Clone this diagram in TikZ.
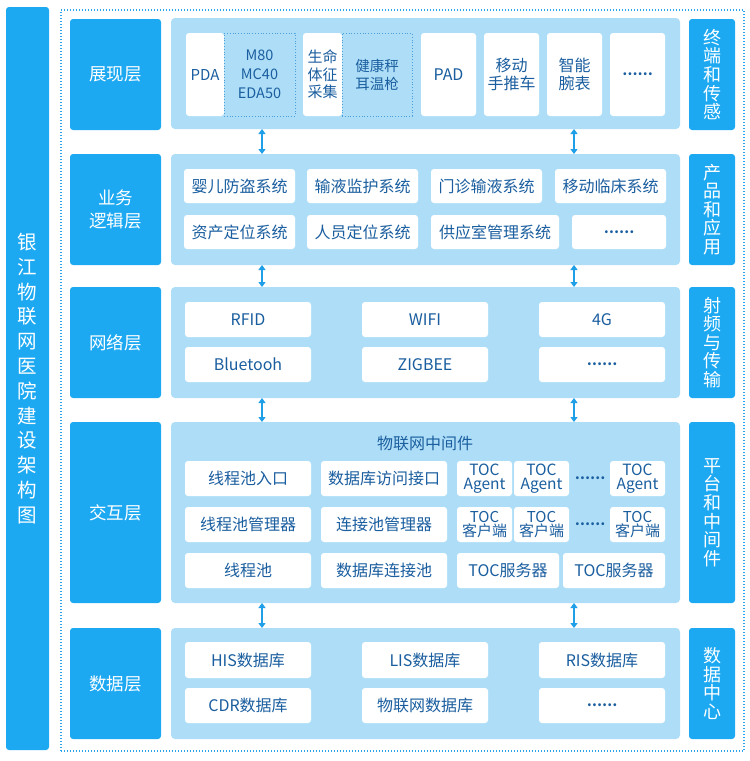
\documentclass[tikz,border=0pt]{standalone}
\usepackage{fontspec}
\setmainfont{Noto Sans CJK SC}
\usetikzlibrary{arrows.meta}
\definecolor{dk}{HTML}{1DA9F2}
\definecolor{lt}{HTML}{AEDEF7}
\definecolor{tx}{HTML}{1A5E9F}
\definecolor{ac}{HTML}{1E9FE8}
\definecolor{fc}{HTML}{2BA4EC}
\definecolor{dc}{HTML}{4A9FDB}
\newcommand\myfs[2]{\fontsize{#1}{#2}\selectfont}
\newcommand\mkbox[7]{\node[#1,minimum width={#5-#3},minimum height={#6-#4}] (#2) at ({(#3+#5)/2},{(#4+#6)/2}) {#7};}
\begin{document}
\begin{tikzpicture}[x=1pt,y=-1pt,
  frame/.style={draw=fc, dash pattern=on 1pt off 2pt, line width=1.1pt, inner sep=0pt, outer sep=0pt},
  dkbox/.style={fill=dk, rounded corners=3pt, text=white, inner sep=0pt, outer sep=0pt, align=center},
  laylbl/.style={dkbox, font=\myfs{17.5}{23}},
  sidelbl/.style={dkbox, font=\myfs{18}{18.6}},
  panel/.style={fill=lt, rounded corners=4pt, inner sep=0pt, outer sep=0pt},
  wbox/.style={fill=white, rounded corners=3pt, text=tx, inner sep=0pt, outer sep=0pt, align=center, font=\myfs{16}{18}},
  dotbox/.style={draw=dc, dotted, line width=0.8pt, text=tx, inner sep=0pt, outer sep=0pt, align=center},
  dots/.style={font=\bfseries\myfs{13.5}{14}},
  arr/.style={{Triangle[length=5pt,width=7pt]}-{Triangle[length=5pt,width=7pt]}, draw=ac, line width=1.3pt}
]
\useasboundingbox[fill=white] (0,0) rectangle (750,761);

% outer dotted frame and left title bar
\mkbox{frame}{frame}{61}{10}{744}{751}{}
\mkbox{dkbox, font=\myfs{19.5}{24.8}}{title}{6}{7}{49}{750}{银\\江\\物\\联\\网\\医\\院\\建\\设\\架\\构\\图}

% layer labels (left)
\mkbox{laylbl}{L1}{70}{19}{161}{130}{展现层}
\mkbox{laylbl}{L2}{70}{154}{161}{265}{业务\\逻辑层}
\mkbox{laylbl}{L3}{70}{287}{161}{398}{网络层}
\mkbox{laylbl}{L4}{70}{422}{161}{603}{交互层}
\mkbox{laylbl}{L5}{70}{628}{161}{739}{数据层}

% side labels (right)
\mkbox{sidelbl}{R1}{689}{19}{735}{130}{终\\端\\和\\传\\感}
\mkbox{sidelbl}{R2}{689}{154}{735}{265}{产\\品\\和\\应\\用}
\mkbox{sidelbl}{R3}{689}{287}{735}{398}{射\\频\\与\\传\\输}
\mkbox{sidelbl}{R4}{689}{422}{735}{603}{平\\台\\和\\中\\间\\件}
\mkbox{sidelbl}{R5}{689}{628}{735}{739}{数\\据\\中\\心}

% panels
\mkbox{panel}{P1}{171}{18}{680}{129}{}
\mkbox{panel}{P2}{171}{154}{680}{265}{}
\mkbox{panel}{P3}{171}{287}{680}{398}{}
\mkbox{panel}{P4}{171}{422}{680}{603}{}
\mkbox{panel}{P5}{171}{628}{680}{739}{}

% layer 1
\mkbox{wbox, font=\myfs{15}{17}}{pda}{186}{33}{224}{116}{PDA}
\mkbox{dotbox, font=\myfs{14.5}{19}}{m80}{224}{33}{295}{116}{M80\\MC40\\EDA50}
\mkbox{wbox, font=\myfs{15}{17.5}}{sm}{303}{33}{342}{116}{生命\\体征\\采集}
\mkbox{dotbox, font=\myfs{14.5}{18}}{jk}{342}{33}{412}{116}{健康秤\\耳温枪}
\mkbox{wbox}{pad}{421}{33}{476}{116}{PAD}
\mkbox{wbox, font=\myfs{16}{17.5}}{sc}{484}{33}{539}{116}{移动\\手推车}
\mkbox{wbox, font=\myfs{16}{17.5}}{wb}{547}{33}{602}{116}{智能\\腕表}
\mkbox{wbox, dots}{d1}{610}{33}{665}{116}{……}

% layer 2
\mkbox{wbox}{b11}{184}{169}{295}{203}{婴儿防盗系统}
\mkbox{wbox}{b12}{307}{169}{418}{203}{输液监护系统}
\mkbox{wbox}{b13}{431}{169}{542}{203}{门诊输液系统}
\mkbox{wbox}{b14}{555}{169}{666}{203}{移动临床系统}
\mkbox{wbox}{b21}{184}{215}{295}{249}{资产定位系统}
\mkbox{wbox}{b22}{307}{215}{418}{249}{人员定位系统}
\mkbox{wbox}{b23}{431}{215}{559}{249}{供应室管理系统}
\mkbox{wbox, dots}{b24}{572}{215}{666}{249}{……}

% layer 3
\mkbox{wbox}{n11}{185}{302}{311}{337}{RFID}
\mkbox{wbox}{n12}{362}{302}{488}{337}{WIFI}
\mkbox{wbox}{n13}{539}{302}{665}{337}{4G}
\mkbox{wbox}{n21}{185}{347}{311}{382}{Bluetooh}
\mkbox{wbox}{n22}{362}{347}{488}{382}{ZIGBEE}
\mkbox{wbox, dots}{n23}{539}{347}{665}{382}{……}

% layer 4
\node[text=tx, font=\myfs{16}{18}, inner sep=0pt] (mw) at (425,443) {物联网中间件};
\mkbox{wbox}{i11}{185}{461}{311}{496}{线程池入口}
\mkbox{wbox}{i21}{185}{507}{311}{542}{线程池管理器}
\mkbox{wbox}{i31}{185}{553}{311}{588}{线程池}
\mkbox{wbox}{i12}{321}{461}{447}{496}{数据库访问接口}
\mkbox{wbox}{i22}{321}{507}{447}{542}{连接池管理器}
\mkbox{wbox}{i32}{321}{553}{447}{588}{数据库连接池}
\mkbox{wbox, font=\myfs{15.5}{14}}{ta1}{457}{461}{512}{496}{TOC\\Agent}
\mkbox{wbox, font=\myfs{15.5}{14}}{ta2}{514}{461}{569}{496}{TOC\\Agent}
\node[text=tx, dots, inner sep=0pt] (td1) at (590,478) {……};
\mkbox{wbox, font=\myfs{15.5}{14}}{ta3}{610}{461}{665}{496}{TOC\\Agent}
\mkbox{wbox, font=\myfs{15}{14}}{tk1}{457}{507}{512}{542}{TOC\\客户端}
\mkbox{wbox, font=\myfs{15}{14}}{tk2}{514}{507}{569}{542}{TOC\\客户端}
\node[text=tx, dots, inner sep=0pt] (td2) at (590,524) {……};
\mkbox{wbox, font=\myfs{15}{14}}{tk3}{610}{507}{665}{542}{TOC\\客户端}
\mkbox{wbox}{ts1}{457}{553}{559}{588}{TOC服务器}
\mkbox{wbox}{ts2}{563}{553}{665}{588}{TOC服务器}

% layer 5
\mkbox{wbox}{s11}{185}{642}{311}{678}{HIS数据库}
\mkbox{wbox}{s12}{362}{642}{488}{678}{LIS数据库}
\mkbox{wbox}{s13}{539}{642}{665}{678}{RIS数据库}
\mkbox{wbox}{s21}{185}{688}{311}{723}{CDR数据库}
\mkbox{wbox}{s22}{362}{688}{488}{723}{物联网数据库}
\mkbox{wbox, dots}{s23}{539}{688}{665}{723}{……}

% arrows between panels
\coordinate (ax1) at (262,0);
\coordinate (ax2) at (574,0);
\draw[arr] (P1.south -| ax1) -- (P2.north -| ax1);
\draw[arr] (P1.south -| ax2) -- (P2.north -| ax2);
\draw[arr] (P2.south -| ax1) -- (P3.north -| ax1);
\draw[arr] (P2.south -| ax2) -- (P3.north -| ax2);
\draw[arr] (P3.south -| ax1) -- (P4.north -| ax1);
\draw[arr] (P3.south -| ax2) -- (P4.north -| ax2);
\draw[arr] (P4.south -| ax1) -- (P5.north -| ax1);
\draw[arr] (P4.south -| ax2) -- (P5.north -| ax2);
\end{tikzpicture}
\end{document}
